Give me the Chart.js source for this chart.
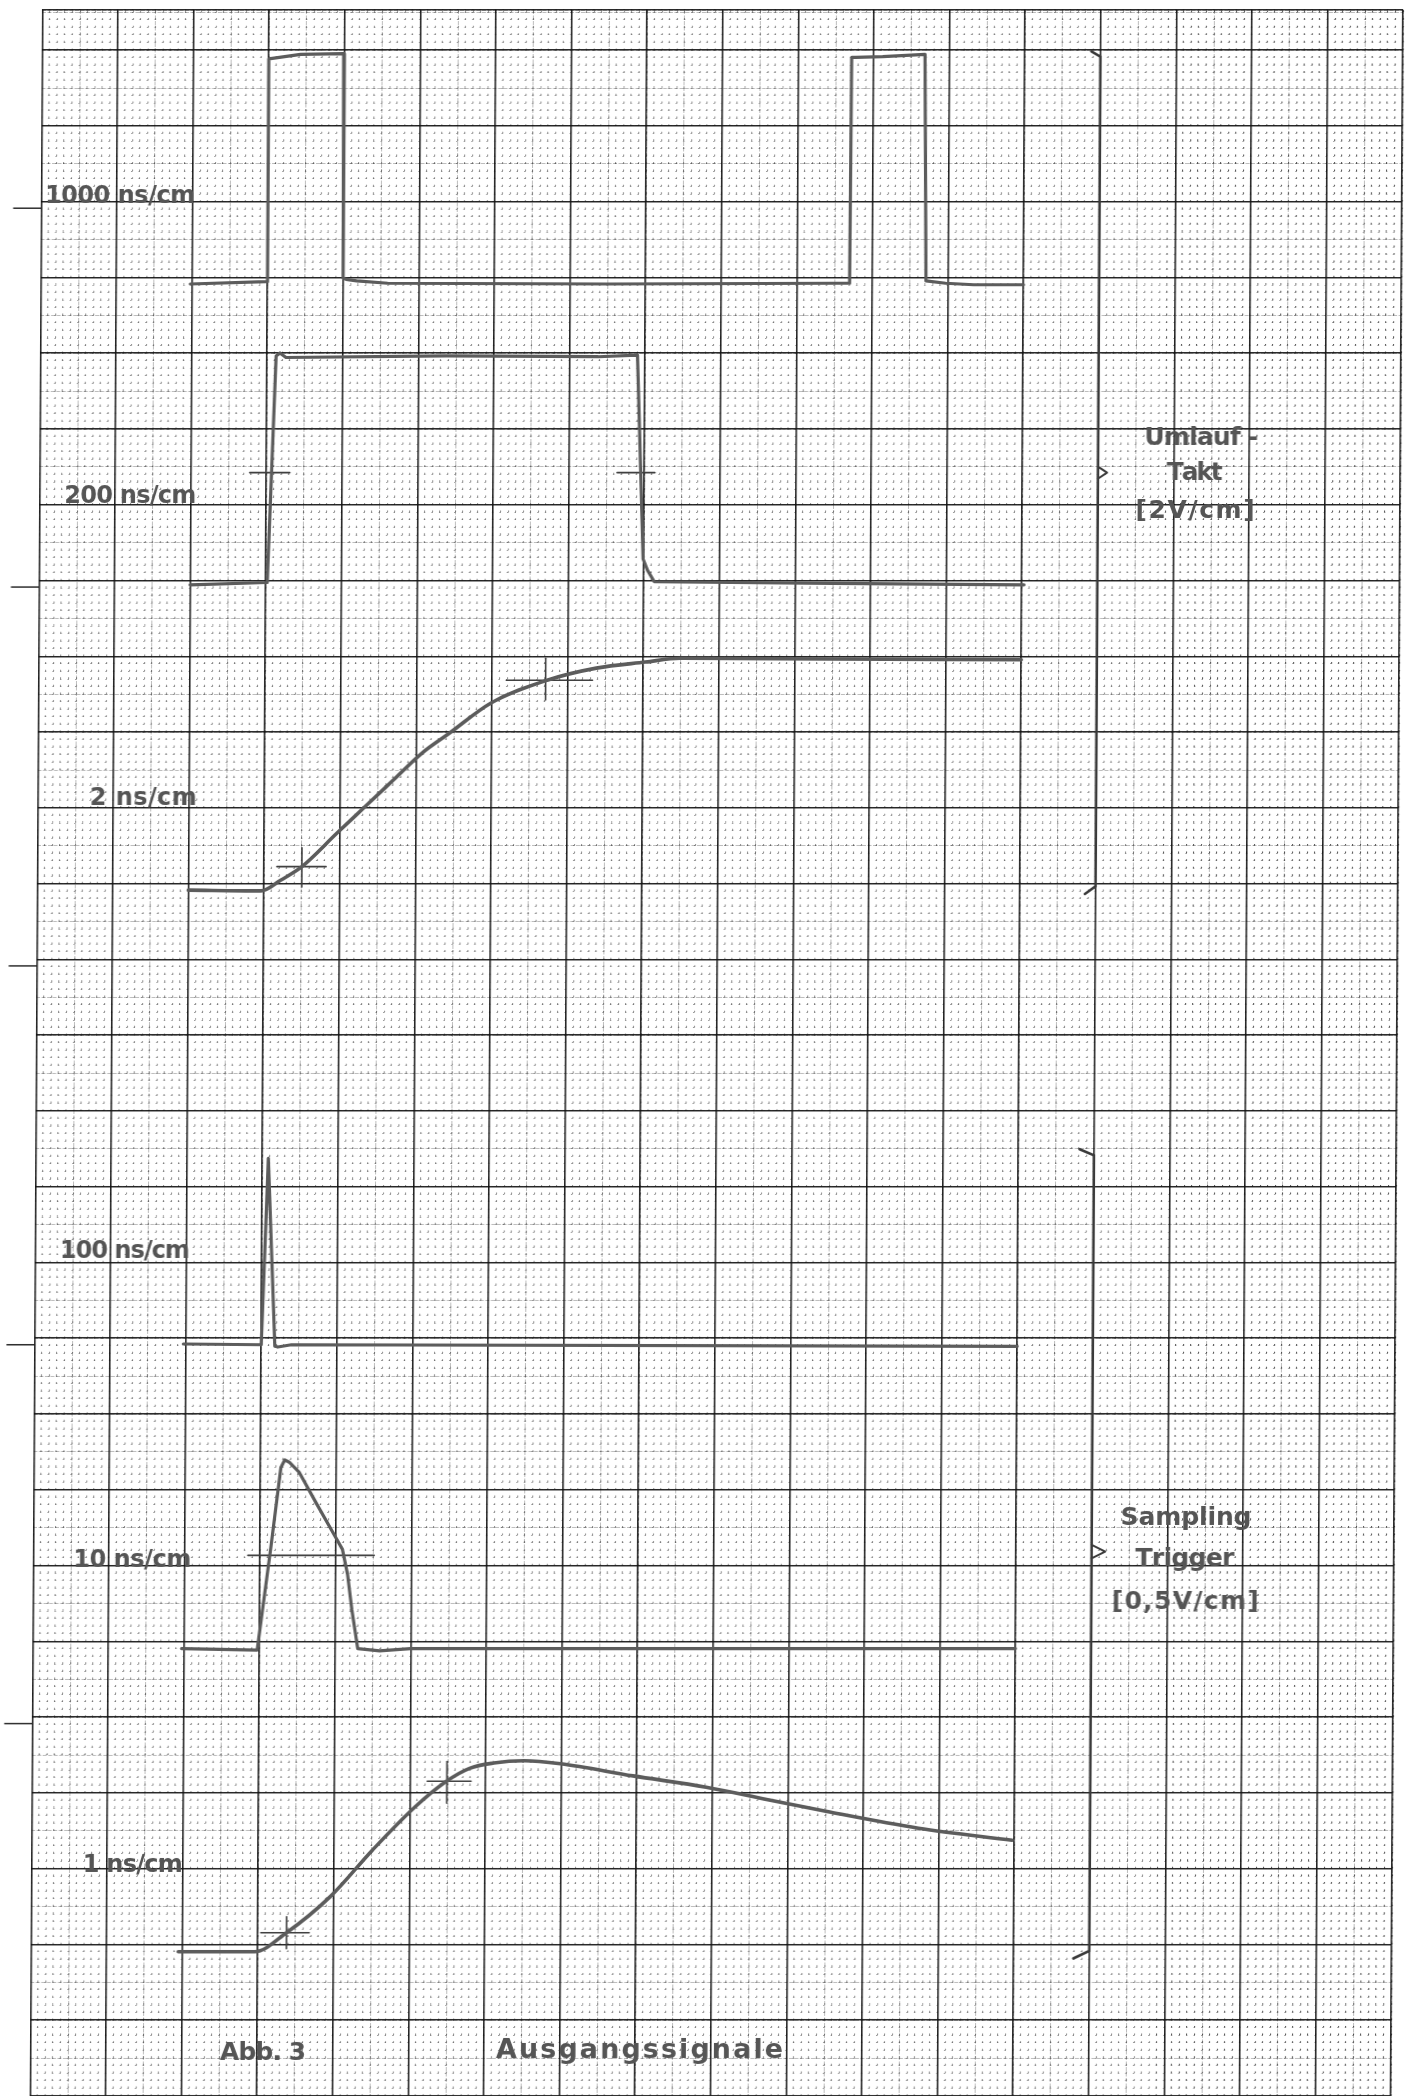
<!DOCTYPE html>
<html>
<head>
<meta charset="utf-8">
<script src="https://cdn.jsdelivr.net/npm/chart.js@4.4.1/dist/chart.umd.min.js"></script>
<style>
html, body { margin: 0; padding: 0; background: #ffffff; overflow: hidden; }
#sheet { position: absolute; left: 0; top: 0; width: 1415px; height: 2096px;
         transform-origin: 0 0; transform: skewX(-0.338deg); }
canvas { display: block; }
</style>
</head>
<body>
<div id="sheet"><canvas id="c" width="1415" height="2096"></canvas></div>
<script>
// ---------- DATA (screen divisions, 1 division = 1 cm on the sheet) ----------
// baselines of the six oscillograms (cm on the sheet, counted upward)
const traceBase = [23, 19, 15, 9, 5, 1];
const traceLabels = ['1000 ns/cm', '200 ns/cm', '2 ns/cm', '100 ns/cm', '10 ns/cm', '1 ns/cm'];

// 1000 ns/cm  (Umlauf-Takt)
const t1000 = [1.98, 2.98, 3.00, 3.00, 3.07, 3.42, 3.99, 4.00, 4.04, 4.18, 4.59, 7.50, 10.53, 10.70, 10.71, 10.76, 11.12, 11.68, 11.71, 11.97, 12.34, 13.00];
const v1000 = [0.00, 0.03, 0.03, 2.97, 2.98, 3.03, 3.04, 0.08, 0.06, 0.04, 0.01, 0.00, 0.01, 0.01, 2.99, 2.99, 3.00, 3.03, 0.04, 0.01, -0.01, -0.01];
// 200 ns/cm
const t200 = [2.00, 3.02, 3.12, 3.17, 3.25, 5.37, 7.38, 7.90, 7.99, 8.05, 8.14, 10.50, 13.03];
const v200 = [0.03, 0.06, 3.05, 3.09, 3.03, 3.05, 3.04, 3.06, 0.37, 0.22, 0.07, 0.05, 0.03];
// 2 ns/cm
const t2 = [2.00, 2.96, 3.22, 3.50, 3.96, 4.33, 4.70, 5.07, 5.44, 5.99, 6.73, 7.38, 8.03, 8.49, 10.50, 13.00];
const v2 = [0.00, -0.01, 0.13, 0.31, 0.75, 1.10, 1.45, 1.80, 2.07, 2.47, 2.77, 2.93, 3.01, 3.06, 3.05, 3.04];
// 100 ns/cm (Sampling-Trigger)
const t100 = [1.97, 3.00, 3.08, 3.18, 3.22, 3.40, 13.00];
const v100 = [0.01, 0.00, 2.46, -0.02, -0.03, 0.00, -0.02];
// 10 ns/cm
const t10 = [1.97, 2.97, 3.14, 3.27, 3.32, 3.38, 3.51, 3.74, 3.97, 4.09, 4.16, 4.22, 4.30, 4.59, 5.00, 13.00];
const v10 = [-0.01, -0.03, 1.30, 2.38, 2.48, 2.45, 2.32, 1.91, 1.51, 1.30, 0.97, 0.50, -0.01, -0.04, -0.01, -0.01];
// 1 ns/cm
const t1 = [1.95, 2.96, 3.38, 3.96, 4.51, 5.07, 5.47, 5.79, 6.11, 6.51, 6.99, 7.95, 8.92, 9.72, 10.52, 11.73, 12.97];
const v1 = [-0.01, -0.01, 0.24, 0.72, 1.33, 1.90, 2.23, 2.41, 2.48, 2.51, 2.47, 2.31, 2.16, 2.00, 1.84, 1.62, 1.46];

// 10 % / 90 % crosses: [h-from, h-to, h-level, v-position, v-from, v-to] (deflection units)
const cross2ns = [[3.17, 3.82, 0.31, 3.50, 0.04, 0.56], [6.19, 7.33, 2.77, 6.71, 2.51, 3.06]];
const cross1ns = [[3.04, 3.68, 0.24, 3.38, 0.03, 0.45], [5.23, 5.81, 2.24, 5.49, 1.95, 2.50]];
// 50 % marks: [from, to, level]
const half200ns = [[2.78, 3.31, 1.51], [7.64, 8.14, 1.51]];
const half10ns = [[2.84, 4.51, 1.22]];

// braces on the right
const braceUpperX = [13.88, 14.00, 14.00, 13.86];
const braceUpperY = [26.07, 26.00, 15.05, 14.95];
const arrowUpperX = [14.00, 14.12, 14.00];
const arrowUpperY = [20.59, 20.51, 20.43];
const braceLowerX = [13.81, 14.00, 14.00, 13.79];
const braceLowerY = [11.58, 11.50, 1.00, 0.90];
const arrowLowerX = [14.00, 14.18, 14.00];
const arrowLowerY = [6.36, 6.27, 6.18];

// 5-cm marks protruding left of the sheet border
const stubY = [24, 19, 14, 9, 4];
const stubX = [-0.37, 0];

// sheet extent (cm)
const X_MIN = 0, X_MAX = 18, Y_MIN = -0.9146, Y_MAX = 26.616;

// ---------- STYLE ----------
const TRACE = '#5c5c5c';
const INK = '#3f3f3f';
const TEXT = '#555555';
const FONT = '"DejaVu Sans", "Liberation Sans", sans-serif';

// text annotations (positions in sheet cm; w = target width in px)
const notes = [
  {text: traceLabels[0], x: 0.05, y: 24.07, w: 150, size: 24},
  {text: traceLabels[1], x: 0.33, y: 20.11, w: 132, size: 24},
  {text: traceLabels[2], x: 0.69, y: 16.12, w: 107, size: 24},
  {text: traceLabels[3], x: 0.33, y: 10.14, w: 130, size: 24},
  {text: traceLabels[4], x: 0.53, y: 6.07, w: 118, size: 24},
  {text: traceLabels[5], x: 0.68, y: 2.04, w: 100, size: 24},
  {text: 'Umlauf -', x: 14.61, y: 20.87, w: 114, size: 25},
  {text: 'Takt', x: 14.91, y: 20.41, w: 56, size: 25},
  {text: '[2V/cm]', x: 14.50, y: 19.91, w: 119, size: 25},
  {text: 'Sampling', x: 14.38, y: 6.62, w: 131, size: 25},
  {text: 'Trigger', x: 14.58, y: 6.08, w: 99, size: 25},
  {text: '[0,5V/cm]', x: 14.27, y: 5.51, w: 147, size: 25},
  {text: 'Abb. 3', x: 2.51, y: -0.44, w: 86, size: 25},
  {text: 'Ausgangssignale', x: 6.16, y: -0.41, w: 287, size: 27}
];

// ---------- DATASETS ----------
const datasets = [];
function addLine(xs, ys, base, opts) {
  datasets.push(Object.assign({
    data: xs.map((t, i) => ({x: t, y: base + ys[i]})),
    showLine: true, pointRadius: 0, pointHoverRadius: 0,
    borderColor: TRACE, borderWidth: 3.2, tension: 0,
    borderJoinStyle: 'round', borderCapStyle: 'round', fill: false
  }, opts || {}));
}
const thin = {borderColor: INK, borderWidth: 1.6};

addLine(t1000, v1000, traceBase[0]);
addLine(t200, v200, traceBase[1]);
addLine(t2, v2, traceBase[2], {cubicInterpolationMode: 'monotone', borderWidth: 3.6});
addLine(t100, v100, traceBase[3]);
addLine(t10, v10, traceBase[4]);
addLine(t1, v1, traceBase[5], {cubicInterpolationMode: 'monotone', borderWidth: 3.6});

cross2ns.forEach(c => {
  addLine([c[0], c[1]], [c[2], c[2]], traceBase[2], thin);
  addLine([c[3], c[3]], [c[4], c[5]], traceBase[2], thin);
});
cross1ns.forEach(c => {
  addLine([c[0], c[1]], [c[2], c[2]], traceBase[5], thin);
  addLine([c[3], c[3]], [c[4], c[5]], traceBase[5], thin);
});
half200ns.forEach(c => addLine([c[0], c[1]], [c[2], c[2]], traceBase[1], thin));
half10ns.forEach(c => addLine([c[0], c[1]], [c[2], c[2]], traceBase[4], thin));

const brace = {borderColor: '#3a3a3a', borderWidth: 2.6, borderJoinStyle: 'miter'};
addLine(braceUpperX, braceUpperY, 0, brace);
addLine(arrowUpperX, arrowUpperY, 0, {borderColor: '#3a3a3a', borderWidth: 2});
addLine(braceLowerX, braceLowerY, 0, brace);
addLine(arrowLowerX, arrowLowerY, 0, {borderColor: '#3a3a3a', borderWidth: 2});

stubY.forEach(s => addLine(stubX, [s, s], 0, {borderColor: '#2e2e2e', borderWidth: 1.5, clip: false, borderCapStyle: 'butt'}));

// ---------- SCALES (graph paper) ----------
function paperAxis(axis, step, color, width, z, dash, dashOffset) {
  return {
    type: 'linear', axis: axis, position: axis === 'x' ? 'bottom' : 'left',
    min: axis === 'x' ? X_MIN : Y_MIN, max: axis === 'x' ? X_MAX : Y_MAX,
    bounds: 'data', display: true,
    ticks: {display: false, stepSize: step, includeBounds: false},
    grid: {display: true, drawTicks: false, drawOnChartArea: true, color: color, lineWidth: width, z: z},
    border: {display: false, dash: dash || [], dashOffset: dashOffset || 0},
    title: {display: false},
    afterFit: function (s) { if (axis === 'x') { s.height = 0; } else { s.width = 0; } }
  };
}
const PX_X = 75.6, PX_Y = 2086 / (Y_MAX - Y_MIN);
// the right-hand strip of the scanned sheet prints its fine lines darker
const fineX = ctx => (ctx.tick && ctx.tick.value > 14.8) ? 'rgba(50,50,50,0.8)' : 'rgba(60,60,60,0.55)';
const scales = {
  xf: paperAxis('x', 0.1, fineX, 1.1, -4, [1.6, PX_Y * 0.1 - 1.6], PX_Y * 0.1 - 0.5),
  yf: paperAxis('y', 0.1, 'rgba(60,60,60,0.55)', 1.1, -4, [1.4, PX_X * 0.1 - 1.4], 0.7),
  xm: paperAxis('x', 0.5, 'rgba(50,50,50,0.32)', 1, -3, [4, 1.5]),
  ym: paperAxis('y', 0.5, 'rgba(50,50,50,0.32)', 1, -3, [4, 1.5]),
  x: paperAxis('x', 1, 'rgba(20,20,20,0.9)', 1.6, -2),
  y: paperAxis('y', 1, 'rgba(20,20,20,0.9)', 1.6, -2)
};

// ---------- TEXT PLUGIN ----------
const sheetText = {
  id: 'sheetText',
  afterDatasetsDraw(chart) {
    const ctx = chart.ctx;
    const sx = chart.scales.x, sy = chart.scales.y;
    ctx.save();
    ctx.fillStyle = TEXT;
    ctx.textBaseline = 'alphabetic';
    ctx.textAlign = 'left';
    notes.forEach(n => {
      ctx.font = 'bold ' + n.size + 'px ' + FONT;
      const chars = Array.from(n.text);
      const widths = chars.map(ch => ctx.measureText(ch).width);
      const total = widths.reduce((a, b) => a + b, 0);
      const gap = chars.length > 1 ? (n.w - total) / (chars.length - 1) : 0;
      let px = sx.getPixelForValue(n.x);
      const py = sy.getPixelForValue(n.y);
      chars.forEach((ch, i) => { ctx.fillText(ch, px, py); px += widths[i] + gap; });
    });
    ctx.restore();
  }
};

new Chart(document.getElementById('c'), {
  type: 'scatter',
  data: {datasets: datasets},
  options: {
    responsive: false, animation: false, devicePixelRatio: 1, events: [],
    layout: {padding: {left: 42.36, right: 1415 - 42.36 - 18 * PX_X, top: 10, bottom: 0}},
    plugins: {legend: {display: false}, tooltip: {enabled: false}, title: {display: false}},
    scales: scales
  },
  plugins: [sheetText]
});
</script>
</body>
</html>
